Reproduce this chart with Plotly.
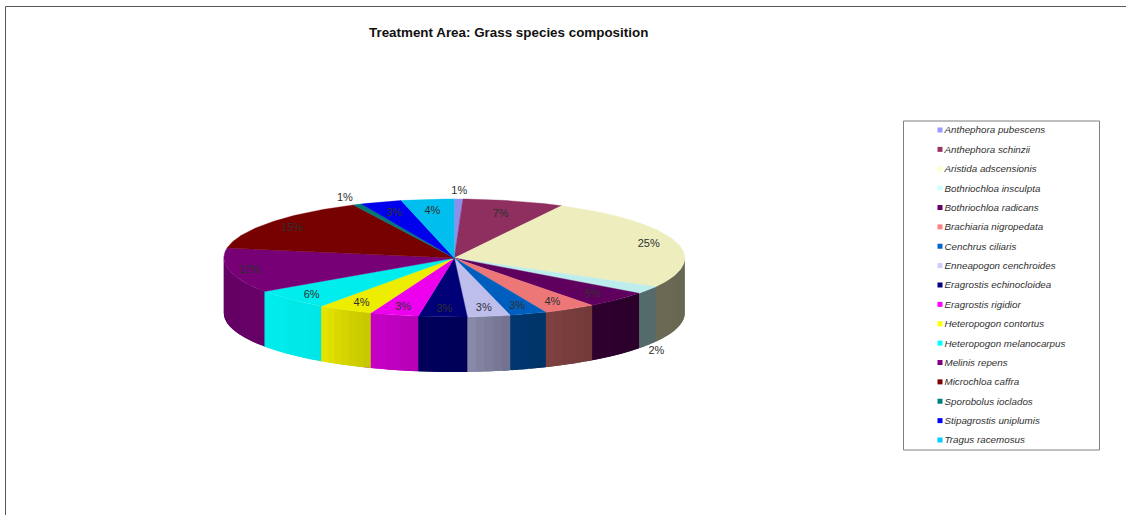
import numpy as np
import plotly.graph_objects as go

species = ["Anthephora pubescens", "Anthephora schinzii", "Aristida adscensionis",
           "Bothriochloa insculpta", "Bothriochloa radicans", "Brachiaria nigropedata",
           "Cenchrus ciliaris", "Enneapogon cenchroides", "Eragrostis echinocloidea",
           "Eragrostis rigidior", "Heteropogon contortus", "Heteropogon melanocarpus",
           "Melinis repens", "Microchloa caffra", "Sporobolus ioclados",
           "Stipagrostis uniplumis", "Tragus racemosus"]
shares = [0.6, 7.1, 25.4, 2.1, 4.6, 3.7, 2.6, 3.0, 3.4, 3.4, 3.9, 5.6, 12.3, 15.1, 0.6, 2.9, 3.7]
colors = ["#9999FF", "#993366", "#FFFFCC", "#CCFFFF", "#660066", "#FF8080", "#0066CC", "#CCCCFF",
          "#000080", "#FF00FF", "#FFFF00", "#00FFFF", "#800080", "#800000", "#008080", "#0000FF", "#00CCFF"]

W, H = 1126, 515
CX, CY, RX, RY, DEPTH = 454.3, 258.0, 230.5, 59.0, 55.0
TOP_SHADE = 0.93
SHADE_ANGLES = [90, 130, 150, 166, 177, 190, 205, 215, 235, 235.5, 270]
SHADE_VALUES = [.40, .42, .47, .55, .68, .72, .80, .90, .93, .80, .78]
# radial placement of the percent labels: inside the rim, a few outside it
LABEL_R = [1.15, .78, .88, 1.045, .85, .85, .85, .85, .85, .85, .85, .87, .91, .88, 1.13, .82, .82]
LABEL_DROP = {3: 59}

def shade(hex_color, f):
    r, g, b = (int(hex_color[i:i + 2], 16) for i in (1, 3, 5))
    return f"rgb({round(r * f)},{round(g * f)},{round(b * f)})"

def px(theta, r=1.0):
    t = np.radians(theta)
    return CX + RX * r * np.sin(t), CY - RY * r * np.cos(t)

cum = np.cumsum([0] + shares) / sum(shares) * 360
fig = go.Figure()

# side wall, as narrow overlapping strips painted in angle order, so that the
# light can change along the rim without seams between them
STRIP = 2.0
for i, c in enumerate(colors):
    a0, a1 = max(cum[i], 90), min(cum[i + 1], 270)
    if a1 <= a0:
        continue
    edges = np.linspace(a0, a1, max(2, int((a1 - a0) / STRIP) + 1))
    for e0, e1 in zip(edges[:-1], edges[1:]):
        arc = np.linspace(e0, min(e1 + STRIP, 270), 6)
        x, y = px(arc)
        col = shade(c, float(np.interp((e0 + e1) / 2, SHADE_ANGLES, SHADE_VALUES)))
        fig.add_trace(go.Scatter(
            x=np.r_[x, x[::-1], x[0]], y=np.r_[y, y[::-1] + DEPTH, y[0]],
            mode="lines", fill="toself", fillcolor=col, line=dict(width=0),
            hoverinfo="skip", showlegend=False))

# top face
for i, c in enumerate(colors):
    arc = np.linspace(cum[i], cum[i + 1], max(3, int(cum[i + 1] - cum[i]) + 2))
    x, y = px(arc)
    col = shade(c, TOP_SHADE)
    fig.add_trace(go.Scatter(
        x=np.r_[CX, x, CX], y=np.r_[CY, y, CY], name=species[i],
        mode="lines", fill="toself", fillcolor=col, line=dict(color=col, width=0.4),
        hoverinfo="name", showlegend=False))

# percent labels
mids = (cum[:-1] + cum[1:]) / 2
lx, ly = px(mids, np.array(LABEL_R))
ly = ly + np.array([LABEL_DROP.get(i, 0) for i in range(len(shares))]) + 1
fig.add_trace(go.Scatter(
    x=lx, y=ly, mode="text", text=[f"{round(v / sum(shares) * 100)}%" for v in shares],
    textposition="middle center", textfont=dict(family="Liberation Sans", size=11, color="#303030"),
    hoverinfo="skip", showlegend=False))

# legend
LEG_X0, LEG_X1, LEG_Y0, LEG_Y1 = 903.5, 1099.5, 121, 450
ITEM_Y0, ITEM_STEP, SW_X = 130, 19.375, 940
ys = np.array([ITEM_Y0 + i * ITEM_STEP for i in range(len(species))])
fig.add_trace(go.Scatter(
    x=[SW_X] * len(species), y=ys, mode="markers",
    marker=dict(symbol="square", size=5, color=colors, line=dict(width=0)),
    hoverinfo="skip", showlegend=False))
fig.add_trace(go.Scatter(
    x=[SW_X + 4.5] * len(species), y=ys + 1, mode="text", text=species, textposition="middle right",
    textfont=dict(family="Liberation Sans", size=9.8, style="italic", color="#303030"),
    hoverinfo="skip", showlegend=False))

fig.update_layout(
    width=W, height=H, autosize=False, margin=dict(l=0, r=0, t=0, b=0),
    paper_bgcolor="white", plot_bgcolor="white", showlegend=False,
    xaxis=dict(range=[0, W], visible=False, fixedrange=True),
    yaxis=dict(range=[H, 0], visible=False, fixedrange=True),
    shapes=[
        dict(type="rect", xref="x", yref="y", x0=LEG_X0, x1=LEG_X1, y0=LEG_Y0, y1=LEG_Y1,
             line=dict(color="#7f7f7f", width=1)),
        dict(type="line", xref="paper", yref="paper", x0=5.5 / W, x1=1, y0=1 - 6.5 / H, y1=1 - 6.5 / H,
             line=dict(color="#595959", width=1)),
        dict(type="line", xref="paper", yref="paper", x0=5.5 / W, x1=5.5 / W, y0=0, y1=1 - 6.5 / H,
             line=dict(color="#595959", width=1)),
    ],
    annotations=[dict(text="<b>Treatment Area: Grass species composition</b>", xref="paper", yref="paper",
                      x=508.5 / W, y=1 - 32 / H, xanchor="center", yanchor="middle", showarrow=False,
                      font=dict(family="Liberation Sans", size=13.4, color="#111111"))],
)
fig.write_html("out.html", config={"displayModeBar": False},
               post_script="document.body.style.margin='0';document.body.style.overflow='hidden';")
